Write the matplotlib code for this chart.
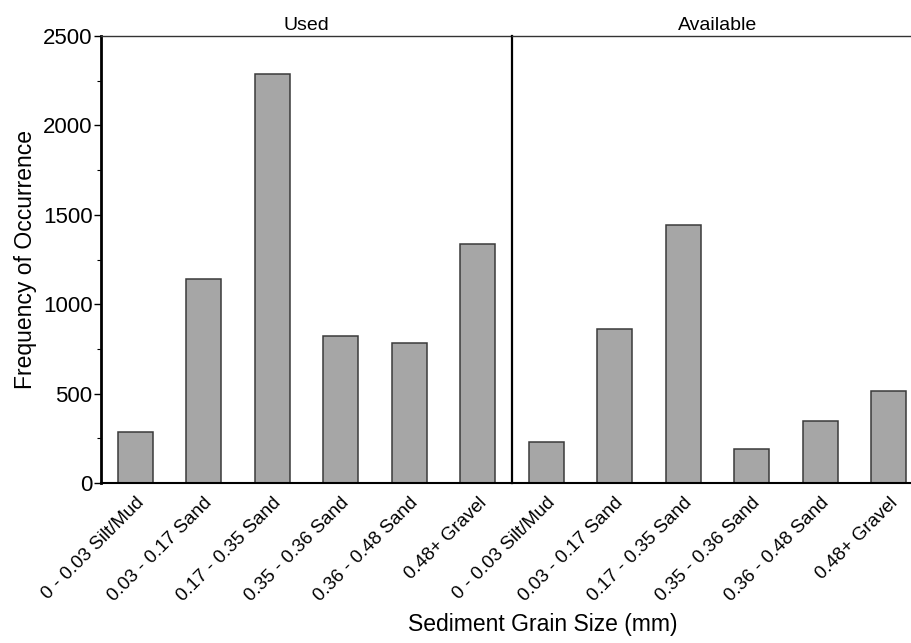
import numpy as np
import matplotlib.pyplot as plt
from matplotlib.ticker import MultipleLocator

plt.rcParams['font.family'] = ['Liberation Sans', 'DejaVu Sans']

categories = ["0 - 0.03 Silt/Mud", "0.03 - 0.17 Sand", "0.17 - 0.35 Sand",
              "0.35 - 0.36 Sand", "0.36 - 0.48 Sand", "0.48+ Gravel"]
used = [287, 1140, 2290, 824, 785, 1337]
available = [228, 863, 1441, 190, 348, 512]
panels = ["Used", "Available"]

W, H = 912, 643
fig = plt.figure(figsize=(W / 100, H / 100), dpi=100)
left, bottom, pw, ph = 101, 483, 411, 447
ax1 = fig.add_axes([left / W, 1 - bottom / H, pw / W, ph / H])
ax2 = fig.add_axes([(left + pw) / W, 1 - bottom / H, pw / W, ph / H], sharey=ax1)

x = np.arange(len(categories)) + 0.5
for ax, vals, name in zip([ax1, ax2], [used, available], panels):
    ax.bar(x, vals, width=0.51, color='#a6a6a6', edgecolor='#3a3a3a', linewidth=1.1)
    ax.set_xlim(0, len(categories))
    ax.set_ylim(0, 2500)
    ax.set_xticks(x)
    ax.set_xticklabels(categories, rotation=45, ha='right', va='top',
                       rotation_mode='anchor', fontsize=13.5)
    ax.tick_params(axis='x', length=0, pad=8)
    ax.set_title(name, fontsize=14, pad=4)
    ax.spines['right'].set_visible(False)
    ax.spines['top'].set_linewidth(1.0)
    ax.spines['top'].set_color('#333333')
    ax.spines['bottom'].set_linewidth(1.5)
    ax.spines['left'].set_linewidth(1.6)

ax1.yaxis.set_major_locator(MultipleLocator(500))
ax1.yaxis.set_minor_locator(MultipleLocator(250))
ax1.tick_params(axis='y', which='major', length=5, width=1, labelsize=16, pad=1)
ax1.tick_params(axis='y', which='minor', length=3, width=0.8)
ax1.spines['left'].set_linewidth(2)
ax1.set_ylabel("Frequency of Occurrence", fontsize=16.5, labelpad=4)

ax2.tick_params(axis='y', which='both', left=False, labelleft=False)

fig.text(543 / W, 1 - 625 / H, "Sediment Grain Size (mm)",
         ha='center', va='center', fontsize=16.5)

fig.savefig("out.png", dpi=100)
